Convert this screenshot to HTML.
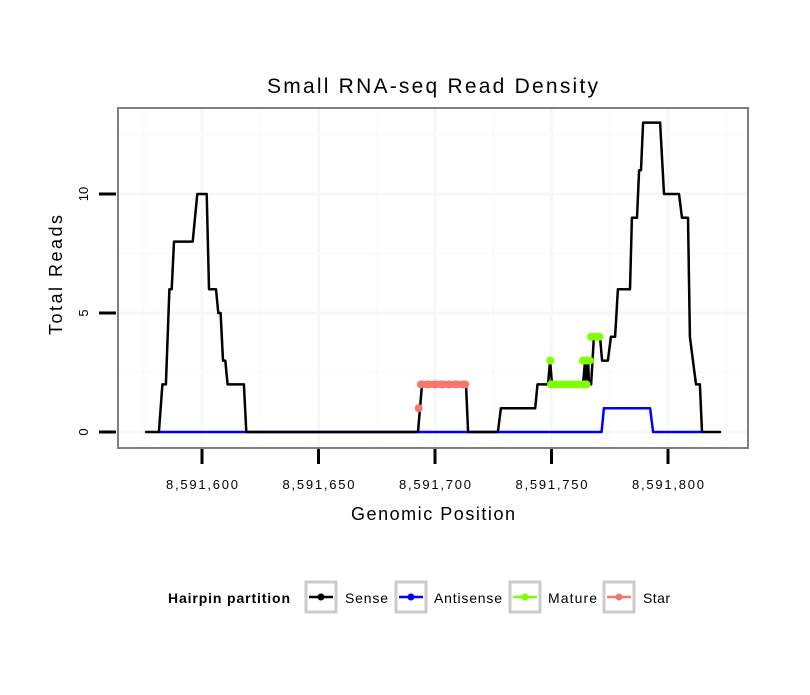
<!DOCTYPE html>
<html><head><meta charset="utf-8"><style>
body{margin:0;background:#fff;}
svg text{font-family:"Liberation Sans",Arial,sans-serif;}
</style></head><body>
<svg id="chart" width="810" height="690" xmlns="http://www.w3.org/2000/svg">
<rect width="810" height="690" fill="#fff"/>
<text x="267" y="93" font-size="21" textLength="331" lengthAdjust="spacing">Small RNA-seq Read Density</text>
<g id="grid"></g>
<g id="series"></g>
<rect x="118" y="108" width="630" height="340" fill="none" stroke="#7f7f7f" stroke-width="2"/>
<g id="axes"></g>
<text x="351" y="520" font-size="18" textLength="164" lengthAdjust="spacing">Genomic Position</text>
<text transform="translate(62,335) rotate(-90)" font-size="18" textLength="120" lengthAdjust="spacing">Total Reads</text>
<g id="legend"></g>
</svg>
<script>
const xTicks=[8591600,8591650,8591700,8591750,8591800];
const yTicks=[0,5,10];
const sensePos=[8591576,8591581.5,8591583,8591584.5,8591586,8591587,8591588,8591596,8591598,8591602,8591603,8591606,8591607,8591608,8591609,8591610,8591611,8591618,8591619,8591692.7,8591694.4,8591713.3,8591714.2,8591727,8591728.3,8591743,8591744,8591748.5,8591749.4,8591750.2,8591763.5,8591764.4,8591764.8,8591765.7,8591766.1,8591767,8591768.2,8591770.8,8591771.7,8591774.2,8591775.5,8591777.3,8591778.5,8591783.7,8591784.5,8591786.7,8591787.6,8591788.4,8591789.3,8591796.6,8591798.3,8591804.7,8591806,8591808.6,8591809.4,8591812,8591813.7,8591814.6,8591822.3];
const senseVal=[0,0,2,2,6,6,8,8,10,10,6,6,5,5,3,3,2,2,0,0,2,2,0,0,1,1,2,2,3,2,2,3,2,3,2,2,4,4,3,3,4,4,6,6,9,9,11,11,13,13,10,10,9,9,4,2,2,0,0];
const antiPos=[8591581.5,8591771.5,8591772.5,8591792.3,8591793.6,8591814.6];
const antiVal=[0,0,1,1,0,0];
const starPos=[8591693,8591694,8591697,8591700,8591703,8591706,8591709,8591712,8591713];
const starVal=[1,2,2,2,2,2,2,2,2];
const maturePos=[8591749.5,8591749.8,8591752,8591755,8591758,8591761,8591764,8591765,8591763.5,8591765,8591766.5,8591767,8591769,8591770.5];
const matureVal=[3,2,2,2,2,2,2,2,3,3,3,4,4,4];
const NS="http://www.w3.org/2000/svg";
const X=p=>202+(p-8591600)*2.33;
const Y=v=>432-v*23.8;
function mk(t,a,parent){const e=document.createElementNS(NS,t);for(const k in a)e.setAttribute(k,a[k]);parent.appendChild(e);return e;}
const grid=document.getElementById('grid'),ser=document.getElementById('series'),axes=document.getElementById('axes'),leg=document.getElementById('legend');
for(let v=-25;v<=225;v+=25){const x=X(8591600+v);if(x<118||x>748)continue;
 const g=mk('line',{x1:x,x2:x,y1:108,y2:448,stroke:v%50===0?'#f7f7f7':'#fbfbfb','stroke-width':v%50===0?3:2},grid);
 }
for(let v=0;v<=12.5;v+=2.5){const y=Y(v);
 const g=mk('line',{x1:118,x2:748,y1:y,y2:y,stroke:v%5===0?'#f7f7f7':'#fbfbfb','stroke-width':v%5===0?3:2},grid);
 }
xTicks.forEach(t=>{const x=X(t);
 const l=mk('line',{x1:x,x2:x,y1:449,y2:464,stroke:'#000','stroke-width':3},axes);
 
 const s=mk('text',{x:x-36,y:489,'font-size':13,textLength:72,lengthAdjust:'spacing'},axes);s.textContent=t.toLocaleString('en-US');
 });
yTicks.forEach(t=>{const y=Y(t);
 const l=mk('line',{x1:99,x2:116,y1:y,y2:y,stroke:'#000','stroke-width':3},axes);
 
 const s=mk('text',{transform:`translate(88,${y}) rotate(-90)`,'font-size':13,'text-anchor':'middle'},axes);s.textContent=t;
 });
function line(pos,val,color,w,name){const d=pos.map((p,i)=>(i?'L':'M')+X(p).toFixed(1)+','+Y(val[i]).toFixed(1)).join('');
 const e=mk('path',{d:d,fill:'none',stroke:color,'stroke-width':w,'stroke-linejoin':'round','stroke-linecap':'round'},ser);
 return e;}
function dots(pos,val,color,r,name){pos.forEach((p,i)=>{const c=mk('circle',{cx:X(p),cy:Y(val[i]),r:r,fill:color},ser);
 });}
line(antiPos,antiVal,'#0000ff',2.5,'antisense-line');
line(sensePos,senseVal,'#000',2.5,'sense-line');
line(starPos.slice(1),starVal.slice(1),'#f8766d',7,'star-line');
dots(starPos,starVal,'#f8766d',4,'star-point');
line(maturePos.slice(1,8),matureVal.slice(1,8),'#80ff00',7,'mature-line');
line(maturePos.slice(8,11),matureVal.slice(8,11),'#80ff00',7,'mature-line');
line(maturePos.slice(11),matureVal.slice(11),'#80ff00',7,'mature-line');
dots(maturePos,matureVal,'#80ff00',4,'mature-point');
const lt=mk('text',{x:168,y:603,'font-size':14,'font-weight':'bold',textLength:122,lengthAdjust:'spacing'},leg);lt.textContent='Hairpin partition';

const entries=[['Sense','#000',306,345,43],['Antisense','#0000ff',396,434,68],['Mature','#80ff00',510,548,49],['Star','#f8766d',604,643,27]];
entries.forEach(([n,c,bx,tx,tw])=>{
 const g=mk('g',{},leg);
 mk('rect',{x:bx,y:582,width:30,height:30,fill:'#fff',stroke:'#cccccc','stroke-width':3},g);
 mk('line',{x1:bx+3,x2:bx+27,y1:597,y2:597,stroke:c,'stroke-width':2.5},g);
 mk('circle',{cx:bx+15,cy:597,r:3.5,fill:c},g);
 const t=mk('text',{x:tx,y:603,'font-size':14,textLength:tw,lengthAdjust:'spacing'},g);t.textContent=n;});
</script>
</body></html>
